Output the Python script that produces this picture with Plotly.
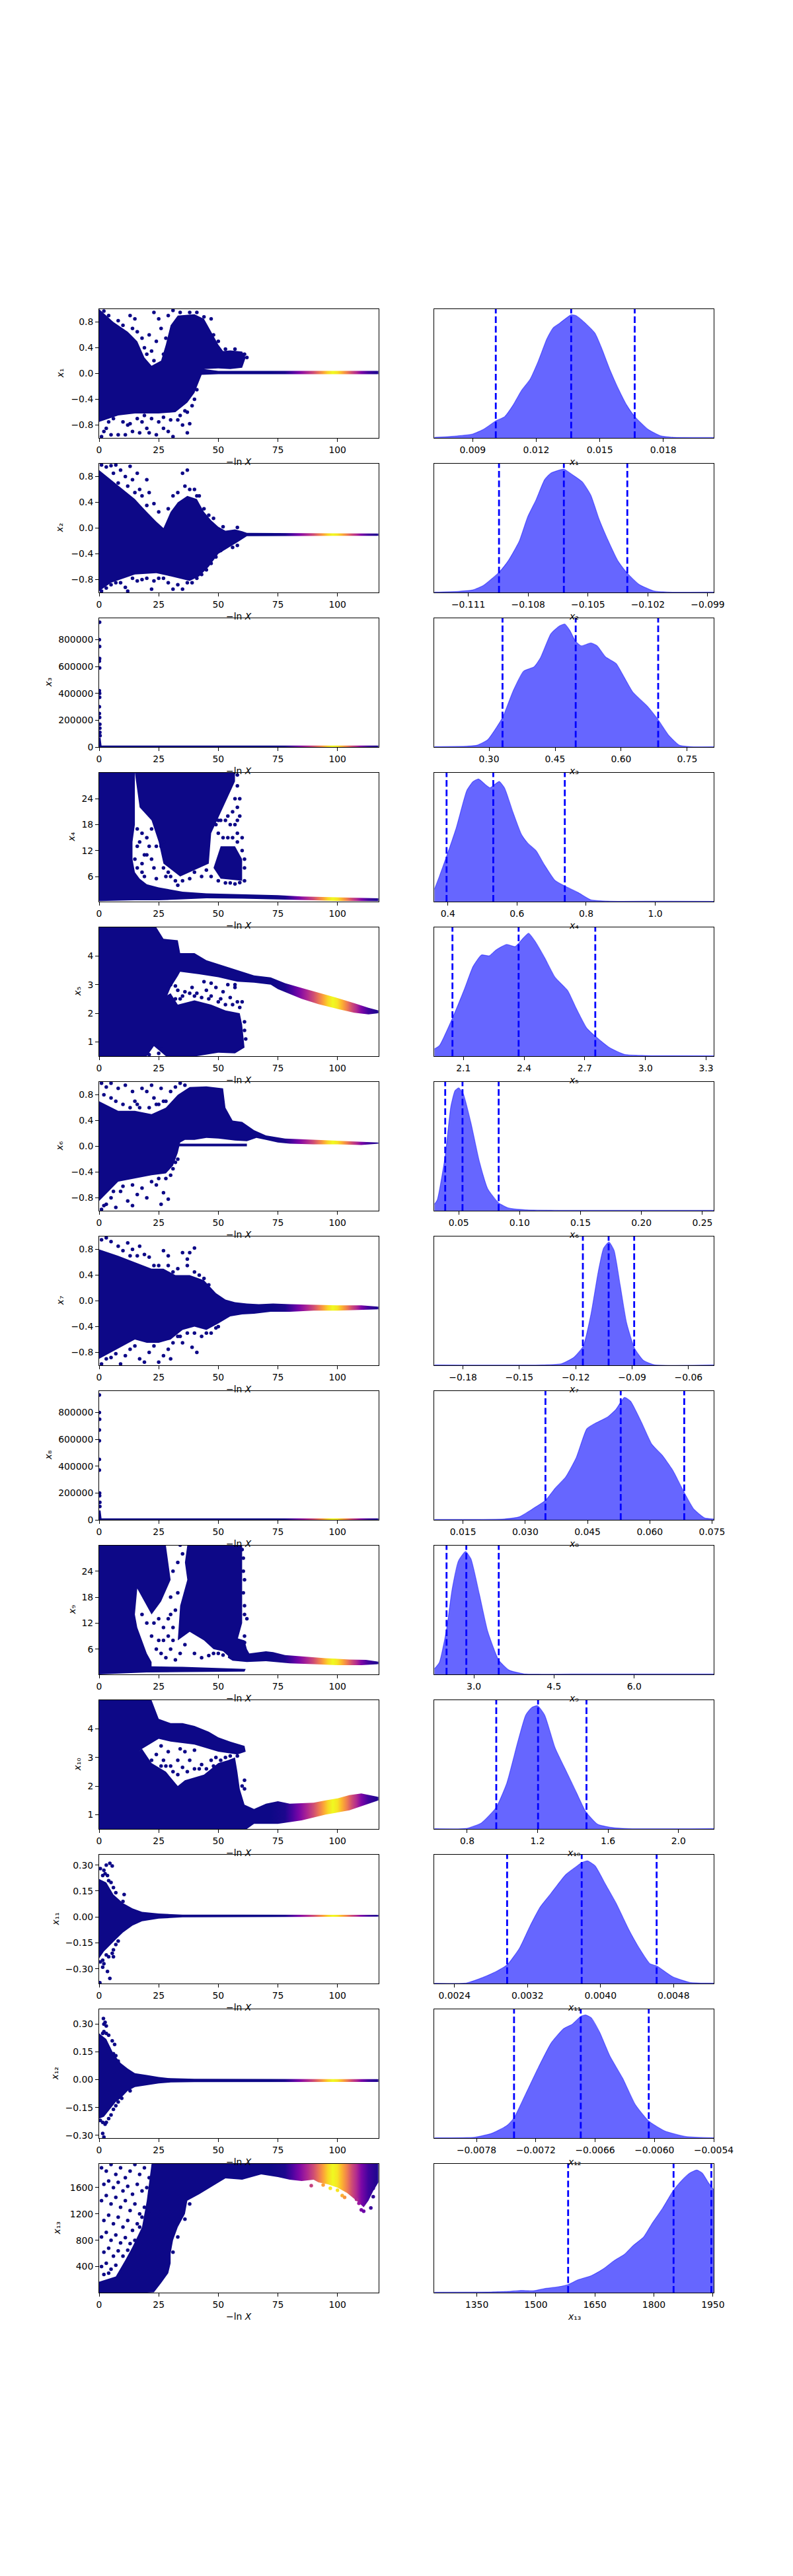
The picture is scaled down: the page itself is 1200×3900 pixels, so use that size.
import numpy as np
import plotly.graph_objects as go
from plotly.colors import sample_colorscale

X_MAX = 117.2
WEIGHT_X = [0, 72, 78, 81, 84, 87, 90, 92, 94, 96, 98, 100, 102, 104, 106, 108, 110, 113, 117.2]
WEIGHT = [0, 0, .03, .12, .25, .38, .52, .65, .78, .92, 1, .95, .82, .68, .52, .4, .25, .1, .03]
LNX_TICKS = ["0", "25", "50", "75", "100"]
SUB = ["₁", "₂", "₃", "₄", "₅", "₆", "₇", "₈", "₉", "₁₀", "₁₁", "₁₂", "₁₃"]

# ---------- left column: estimated outlines of solid clouds, and individually read points ----------
X1_POLYS = [[(0,-.75),(8,-.65),(15,-.62),(25,-.62),(32,-.6),(37,-.45),(40,-.3),(43,-.02),(50,-.01),(117.2,-.01),(117.2,.04),(50,.04),(44,.07),(50,.08),(55,.07),(60,.09),(61.5,.25),(60,.34),(55,.36),(52,.35),(50,.45),(47,.65),(44,.85),(40,.92),(33,.9),(30,.75),(28,.45),(26,.2),(22,.12),(19,.25),(16,.5),(12,.65),(6,.8),(0,1)]]
X1_DOTS = [(1,-.98),(3,-.85),(6,-.7),(8,-.95),(10,-.75),(12,-.8),(14,-.9),(16,-.7),(18,-.75),(20,-.85),(22,-.7),(24,-.95),(25,-.75),(27,-.68),(29,-.9),(30,-.72),(31,-.98),(33,-.72),(35,-.8),(37,-.92),(37,-.6),(38,-.78),(36,-.58),(39,-.5),(40,-.4),(41,-.25),(34,-.65),(19,-.65),(17,-.92),(13,-.78),(4,-.75),(2,-.9),(5,-.95),(11,-.95),(21,-.92),(27,-.85),(2,.97),(4,.9),(8,.82),(13,.9),(14,.7),(15,.85),(10,.75),(18,.55),(19,.4),(20,.3),(21,.6),(23,.95),(25,.85),(24,.5),(26,.7),(28,.55),(29,.9),(31,.98),(34,.95),(38,.95),(41,.95),(44,.88),(47,.85),(48,.6),(50,.5),(16,.65),(22,.35),(23,.2),(27,.3),(53,.38),(57,.38),(61,.3),(62,.25)]

X2_POLYS = [[(0,.9),(5,.75),(10,.6),(15,.45),(20,.25),(24,.1),(27,0),(30,.25),(33,.4),(37,.5),(41,.45),(44,.25),(47,.12),(50,.02),(53,-.04),(57,-.02),(60,-.05),(62,-.075),(117.2,-.085),(117.2,-.12),(62,-.125),(58,-.22),(50,-.4),(46,-.6),(42,-.75),(38,-.82),(30,-.75),(24,-.7),(15,-.72),(5,-.85),(0,-.98)]]
X2_DOTS = [(1,.98),(3,.95),(5,.97),(7,.98),(6,.85),(8,.7),(9,.9),(11,.8),(12,.65),(13,.96),(14,.75),(15,.55),(16,.85),(17,.6),(18,.5),(20,.75),(20,.35),(21,.55),(23,.38),(25,.25),(29,.3),(31,.5),(33,.55),(35,.85),(36,.65),(37,.9),(38,.6),(40,.6),(41,.5),(42,.5),(44,.3),(46,.2),(48,.15),(52,.02),(58,.01),(1,-.98),(3,-.93),(5,-.88),(7,-.85),(9,-.85),(11,-.92),(12,-.98),(14,-.78),(16,-.82),(18,-.8),(20,-.78),(22,-.95),(23,-.82),(25,-.78),(27,-.78),(29,-.85),(31,-.95),(33,-.88),(35,-.95),(37,-.85),(39,-.85),(41,-.78),(43,-.72),(45,-.65),(47,-.55),(49,-.45),(51,-.35),(56,-.3),(58,-.27)]

X3_POLYS = [[(0,70000),(.6,70000),(1,11000),(117.2,11000),(117.2,0),(0,0)]]
X3_DOTS = [(.2,930000),(.1,800000),(.2,750000),(.2,660000),(.1,640000),(.2,590000),(.1,420000),(.2,400000),(.2,370000),(.1,300000),(.1,250000),(.2,220000),(.3,170000),(.3,140000),(.3,110000),(.4,85000)]

X4_POLYS = [[(0,.3),(15,.5),(25,.5),(35,.7),(45,.95),(60,.9),(75,.75),(90,.5),(100,.35),(117.2,.3),(117.2,.95),(100,1.25),(85,1.4),(75,1.7),(60,1.95),(45,2.1),(35,2.5),(25,3.5),(20,4.2),(17,5.5),(15,7),(14,10),(14,14),(15,18),(15,24),(15,30),(0,30)],
            [(27,9),(34,6),(46,9),(47,16),(52,22),(57,28),(57,30),(15,30),(17,22),(22,19),(25,14)],
            [(48,8),(51,5.5),(60,5),(60,10),(57,13),(51,13)]]
X4_DOTS = [(16,17),(18,16),(20,15),(22,17),(24,13),(26,13),(27,8),(29,7),(30,6),(32,5),(33,4),(35,5),(38,5.5),(40,7),(43,6),(45,7.5),(47,6),(50,5),(53,4.5),(55,4.5),(57,4.3),(59,4.6),(61,5),(61,8),(61,10),(60,12),(58,14),(56,15),(54,15),(52,15),(50,16),(49,18),(51,19),(53,19),(55,18),(56,21),(57,18),(58,16),(58,22),(59,24),(58,27),(58,29.5),(59,20),(58,19),(57,24),(60,15),(54,20),(50,19),(19,11),(18,9),(16,13),(15,10),(17,14),(21,13),(16,8),(18,7),(19,6),(28,6),(27,14),(20,11),(22,10),(23,8),(24,5.5)]

X5_POLYS = [[(0,5),(24,5),(27,4.6),(33,4.55),(34,4.1),(40,4.1),(45,3.85),(50,3.72),(58,3.5),(65,3.32),(72,3.25),(78,3.05),(85,2.88),(92,2.72),(100,2.53),(107,2.35),(113,2.19),(117.2,2.1),(117.2,2.0),(113,1.96),(107,2.02),(100,2.15),(92,2.32),(85,2.5),(75,2.84),(72,3.0),(65,3.07),(58,3.1),(50,3.26),(42,3.36),(34,3.45),(33,3.3),(30,2.9),(28,2.5),(25,2.2),(0,2.85)],
            [(0,.5),(20,.5),(23,.85),(28,.5),(41,.5),(50,.62),(57,.6),(61,.8),(60,1.6),(59,2.0),(53,2.1),(47,2.3),(40,2.45),(33,2.3),(30,2.7),(28,2.6),(25,2.4),(0,3.05)]]
X5_DOTS = [(21,.55),(24,.95),(26,.75),(25,.6),(32,2.5),(34,2.5),(33,2.8),(35,2.6),(36,2.75),(38,2.7),(39,2.9),(40,2.6),(41,2.7),(43,2.55),(45,2.8),(46,2.5),(47,2.6),(49,2.9),(50,2.4),(51,2.5),(52,2.75),(53,2.3),(54,3.0),(55,2.55),(56,2.3),(57,2.9),(58,2.4),(59,2.2),(57,3.0),(60,2.4),(61,1.7),(61,1.4),(61.5,1.1),(44,3.1),(47,3.05),(30,3.0),(32,2.95)]

X6_POLYS = [[(0,.7),(8,.55),(15,.55),(22,.5),(28,.6),(33,.8),(38,.92),(45,.93),(52,.9),(53,.6),(56,.4),(60,.38),(65,.25),(70,.17),(78,.12),(90,.1),(100,.09),(110,.07),(117.2,.06),(117.2,.04),(110,.02),(100,.03),(90,.03),(80,.04),(75,.06),(70,.1),(66,.13),(62,.08),(57,.09),(50,.12),(45,.13),(40,.1),(36,.1),(34,.06),(33,-.1),(31,-.3),(28,-.42),(22,-.45),(15,-.5),(8,-.55),(0,-.85)],
            [(33,.04),(62,.04),(62,0),(33,0)]]
X6_DOTS = [(1,.98),(3,.92),(5,.98),(7,.7),(8,.9),(10,.65),(11,.95),(13,.6),(14,.85),(15,.7),(16,.65),(17,.6),(18,.9),(20,.85),(21,.6),(22,.95),(23,.75),(24,.65),(25,.65),(26,.9),(27,.7),(28,.7),(30,.85),(32,.92),(34,.98),(36,.95),(2,.8),(5,.75),(1,-.98),(3,-.9),(5,-.8),(7,-.95),(9,-.7),(12,-.85),(14,-.92),(14,-.6),(16,-.75),(18,-.65),(20,-.8),(22,-.55),(24,-.6),(25,-.5),(27,-.72),(29,-.82),(26,-.9),(28,-.5),(30,-.45),(2,-.92),(6,-.7),(10,-.62),(31,-.35),(32,-.25),(33,-.2)]

X7_POLYS = [[(0,.8),(8,.7),(15,.6),(22,.5),(27,.5),(32,.4),(38,.4),(44,.32),(49,.12),(53,.02),(57,-.02),(62,-.04),(67,-.05),(73,-.04),(80,-.05),(90,-.06),(100,-.07),(110,-.07),(117.2,-.09),(117.2,-.13),(110,-.14),(100,-.15),(90,-.15),(80,-.17),(72,-.17),(65,-.2),(60,-.21),(55,-.24),(50,-.35),(45,-.45),(40,-.4),(35,-.45),(30,-.6),(25,-.65),(20,-.65),(15,-.6),(10,-.7),(5,-.8),(0,-.9)]]
X7_DOTS = [(1,.95),(3,.98),(5,.92),(8,.85),(10,.78),(12,.9),(13,.7),(14,.8),(16,.7),(17,.85),(19,.72),(21,.68),(23,.55),(25,.55),(27,.78),(29,.55),(29,.7),(31,.45),(33,.5),(35,.75),(37,.65),(38,.75),(40,.82),(37,.55),(40,.45),(42,.4),(44,.35),(46,.25),(1,-.98),(3,-.9),(5,-.88),(7,-.82),(9,-.98),(11,-.85),(13,-.75),(15,-.7),(17,-.9),(19,-.95),(21,-.8),(23,-.7),(25,-.95),(27,-.85),(29,-.75),(30,-.9),(31,-.65),(33,-.55),(35,-.65),(37,-.5),(39,-.72),(41,-.8),(43,-.55),(45,-.5),(47,-.5),(49,-.42),(50,-.4),(40,-.5),(34,-.55)]

X8_POLYS = [[(0,70000),(.6,70000),(1,11000),(117.2,11000),(117.2,0),(0,0)]]
X8_DOTS = [(.1,930000),(.1,800000),(.2,750000),(.1,670000),(.1,590000),(.1,450000),(.1,370000),(.2,200000),(.2,180000),(.3,130000),(.3,100000)]

X9_POLYS = [[(54,4),(55,7),(58,8.5),(61,8),(62,6),(63,5),(70,5.5),(73,5.3),(78,4.6),(85,4.3),(95,3.9),(105,3.6),(112,3.5),(117.2,3.1),(117.2,2.5),(110,2.3),(100,2.3),(90,2.5),(80,2.7),(70,3.2),(62,3),(56,3.3)],
            [(0,.15),(20,.6),(35,.7),(61,.8),(61.5,1.4),(50,1.6),(35,1.9),(22,2.0),(22,3),(20,5),(18,8),(16,11),(15,14),(16,20),(22,14),(26,17),(30,22),(28,30),(0,30)],
            [(33,8),(38,10),(44,8),(48,6),(52,5.5),(55,4),(58,8),(60,12),(60,20),(60,30),(37,30),(36,26),(37,22),(34,16)]]
X9_DOTS = [(18,14),(20,12),(22,9),(24,6),(26,5),(28,4),(30,6),(32,3.5),(34,5),(36,7),(40,5),(43,4),(46,4.5),(48,5),(50,5),(52,4.6),(31,11),(29,13),(27,11),(25,13),(23,12),(33,19),(33,26),(31,24),(35,28),(34,30),(29,9),(27,8),(25,8),(31,8),(30,14),(32,15),(30,18),(61,14),(62,13),(61,9),(61,7.5),(60.5,24),(61,16),(60.5,19),(61,22),(60.5,27),(60,29)]

X10_POLYS = [[(0,5),(22,5),(25,4.35),(30,4.2),(35,4.2),(40,4.1),(46,3.9),(50,3.7),(55,3.55),(61,3.4),(61.5,3.2),(58,3.1),(50,3.2),(40,3.45),(30,3.55),(25,3.65),(18,3.3),(10,2.7),(0,2.5)],
             [(0,.5),(62,.5),(65,.68),(75,.68),(85,.8),(95,1),(105,1.15),(115,1.45),(117.2,1.5),(117.2,1.62),(110,1.74),(105,1.68),(100,1.57),(95,1.5),(90,1.42),(80,1.38),(75,1.47),(70,1.38),(65,1.2),(61,1.35),(59,1.9),(58,2.5),(57,3.0),(54,2.9),(50,2.8),(44,2.4),(36,2.2),(33,2.0),(28,2.5),(22,2.8),(18,3.3),(10,2.8),(0,2.7)]]
X10_DOTS = [(26,2.7),(28,2.7),(27,2.9),(30,2.7),(31,2.5),(33,2.9),(33,2.4),(35,2.65),(37,2.5),(38,2.9),(29,3.2),(26,3.4),(24,3.1),(22,2.9),(40,2.6),(42,2.6),(43,2.75),(45,2.6),(47,2.9),(49,3.0),(48,2.7),(51,2.9),(53,3.0),(55,3.05),(58,3.05),(36,3.2),(34,3.3),(40,3.25),(60,2.0),(61,2.2),(61,1.9)]

X11_POLYS = [[(0,.22),(3,.2),(6,.13),(10,.08),(14,.05),(18,.03),(25,.02),(35,.013),(60,.013),(117.2,.012),(117.2,.002),(60,0),(35,-.002),(25,-.01),(18,-.025),(14,-.05),(10,-.09),(7,-.13),(4,-.17),(2,-.2),(0,-.24)]]
X11_DOTS = [(.5,.28),(2,.27),(3,.3),(4.5,.31),(5.5,.295),(2.5,.25),(3.5,.24),(1.5,.24),(4,.21),(5,.2),(6,.17),(7,.14),(10.5,.13),(10,.09),(.5,-.26),(1.5,-.25),(1.5,-.29),(3.5,-.315),(4.5,-.355),(.3,-.38),(2,-.27),(3,-.22),(4,-.23),(5.5,-.21),(6,-.19),(7,-.16),(8,-.14),(6,-.23)]

X12_POLYS = [[(0,.25),(3,.22),(6,.14),(9,.09),(12,.06),(15,.035),(20,.025),(25,.015),(30,.008),(40,.005),(117.2,.003),(117.2,-.012),(40,-.013),(30,-.015),(25,-.02),(20,-.03),(15,-.04),(12,-.06),(9,-.1),(7,-.12),(4,-.17),(2,-.2),(0,-.21)]]
X12_DOTS = [(1.8,.33),(2,.3),(2.5,.31),(3,.29),(2,.26),(1.5,.25),(3,.25),(4,.24),(5.5,.21),(6.5,.19),(4,.17),(6,.14),(7,.13),(8,.1),(.5,-.22),(1.5,-.23),(2.5,-.24),(3,-.23),(4,-.21),(5,-.19),(6,-.16),(7,-.14),(8,-.12),(1.5,-.29),(2,-.31),(9.5,-.1),(13,-.06)]

X13_POLYS = [[(20,5),(23,10),(26,150),(29,300),(30,450),(30,600),(31,800),(33,1000),(36,1200),(37,1400),(42,1500),(47,1610),(50,1680),(53,1740),(60,1720),(68,1800),(75,1760),(80,1720),(85,1700),(90,1720),(92,1680),(96,1650),(100,1600),(104,1520),(108,1400),(111,1300),(113,1400),(115,1550),(117.2,1680),(117.2,1960),(22,1960),(20,1400),(18,1000),(14,700),(11,500),(7,250),(0,170),(0,5)]]
X13_DOTS = [(1,1900),(3,1850),(5,1950),(7,1800),(9,1900),(11,1750),(13,1850),(15,1950),(17,1800),(19,1900),(2,1650),(4,1700),(6,1600),(8,1680),(10,1550),(12,1620),(14,1500),(16,1650),(18,1550),(1,1400),(3,1480),(5,1350),(7,1450),(9,1300),(11,1400),(13,1250),(15,1350),(17,1200),(19,1300),(2,1100),(4,1180),(6,1050),(8,1150),(10,1000),(12,1100),(14,950),(16,1050),(18,1150),(1,850),(3,920),(5,800),(7,880),(9,760),(11,840),(13,750),(15,800),(17,1000),(2,620),(4,680),(6,560),(8,640),(10,560),(1,400),(3,450),(5,360),(7,420),(2,280),(4,300),(12,650),(20,1600),(21,1750),(21,1250),(89,1630),(94,1640),(97,1590),(100,1560),(102,1480),(103,1450),(108,1420),(109,1360),(110,1260),(111,1240),(114,1290),(115,1460),(115,1590),(116,1700),(31,620),(33,850),(36,1120),(38,1350)]

# ---------- right column: density curves (relative height) and quantiles ----------
K1_X = [.00719,.00813,.0090,.00952,.01009,.01051,.01091,.0113,.0117,.0121,.0125,.0128,.01309,.01365,.01389,.01428,.01478,.01508,.01548,.01587,.01627,.01665,.01727,.01786,.01846,.02038]
K1_H = [.005,.014,.031,.068,.132,.166,.256,.368,.453,.598,.769,.855,.889,.956,.949,.897,.812,.701,.53,.385,.256,.166,.068,.017,.005,.003]
K2_X = [-.1127,-.11151,-.11077,-.11024,-.10946,-.10898,-.10845,-.10803,-.1076,-.10718,-.10687,-.10621,-.10581,-.10528,-.10486,-.10444,-.10402,-.10349,-.10303,-.10244,-.1017,-.10096,-.0987]
K2_H = [.003,.009,.02,.055,.157,.251,.397,.585,.721,.875,.926,.957,.918,.858,.756,.568,.414,.243,.149,.063,.012,.003,.003]
K3_X = [.1758,.2494,.2732,.2971,.3306,.3545,.3783,.4022,.4166,.4404,.4596,.472,.4834,.4968,.5092,.5312,.5455,.5646,.5885,.6076,.6267,.6602,.6841,.7079,.7318,.7557,.8102]
K3_H = [.003,.007,.015,.058,.229,.435,.589,.623,.692,.88,.94,.955,.906,.82,.786,.808,.786,.7,.649,.538,.426,.315,.212,.092,.015,.003,.002]
K4_X = [.361,.3757,.3963,.4243,.4548,.473,.4888,.5095,.5217,.5339,.5485,.5643,.5886,.613,.6312,.6556,.6799,.7103,.7383,.7773,.8138,.8685,1.0024,1.169]
K4_H = [.096,.198,.352,.573,.863,.932,.952,.906,.884,.906,.933,.881,.693,.522,.454,.394,.283,.164,.121,.07,.014,.003,.003,.002]
K5_X = [1.9565,1.9815,2.0459,2.1062,2.1478,2.1894,2.2269,2.2622,2.3142,2.3558,2.3974,2.4224,2.4536,2.5014,2.5534,2.6158,2.6574,2.7094,2.7614,2.8238,2.8966,3.0006,3.3375]
K5_H = [.056,.082,.296,.526,.697,.786,.779,.826,.868,.851,.92,.954,.894,.766,.612,.509,.373,.219,.142,.065,.014,.005,.003]
K6_X = [.03,.0324,.0389,.0434,.0469,.05,.0538,.06,.0669,.0738,.0828,.0911,.1049,.1429,.2593]
K6_H = [.051,.085,.427,.803,.932,.954,.906,.684,.385,.171,.06,.021,.007,.003,.003]
K7_X = [-.1952,-.1377,-.1276,-.1209,-.116,-.1119,-.1081,-.1052,-.1023,-.0996,-.0963,-.0929,-.0887,-.084,-.0784,-.0466]
K7_H = [.003,.003,.012,.063,.149,.397,.721,.909,.957,.892,.619,.328,.132,.038,.005,.003]
K8_X = [.0081,.025,.0286,.0321,.0349,.0372,.0397,.0423,.0448,.0468,.0499,.0519,.0539,.0554,.058,.0605,.063,.0656,.0683,.0706,.0732,.0754]
K8_H = [.003,.007,.024,.092,.152,.246,.331,.485,.706,.749,.8,.86,.951,.92,.758,.587,.502,.382,.212,.084,.015,.007]
K9_X = [2.26,2.354,2.488,2.591,2.709,2.843,2.945,3.102,3.26,3.465,3.654,3.929,4.835,7.488]
K9_H = [.043,.094,.35,.658,.88,.954,.897,.624,.333,.111,.034,.005,.003,.003]
K10_X = [.6135,.7976,.8813,.965,1.0247,1.0845,1.1323,1.1682,1.1992,1.2399,1.2996,1.3594,1.4192,1.4742,1.5387,1.6104,1.706,2.2009]
K10_H = [.003,.005,.048,.168,.356,.663,.885,.945,.957,.885,.629,.458,.287,.133,.039,.014,.003,.003]
K11_X = [.00218,.002534,.002695,.002857,.002977,.003111,.003226,.003342,.003457,.003618,.003734,.003794,.003858,.003942,.004057,.004172,.004311,.004426,.004542,.004615,.004795,.00498,.005243]
K11_H = [.002,.005,.043,.094,.145,.273,.444,.597,.7,.845,.908,.939,.952,.913,.768,.623,.418,.273,.154,.137,.051,.009,.003]
K12_X = [-.008226,-.007813,-.007642,-.007493,-.00742,-.007301,-.007173,-.007045,-.006918,-.006832,-.006747,-.006696,-.00664,-.006555,-.006449,-.006321,-.006193,-.006057,-.005894,-.005681,-.005396]
K12_H = [.002,.007,.038,.097,.157,.345,.55,.738,.85,.884,.944,.956,.935,.824,.636,.465,.26,.132,.055,.012,.002]
K13_X = [1242,1378,1431,1463,1495,1522,1554,1582,1608,1640,1672,1699,1725,1747,1774,1795,1822,1849,1870,1891,1909,1923,1939,1952]
K13_H = [.003,.005,.01,.017,.015,.032,.044,.063,.101,.131,.186,.249,.297,.365,.433,.536,.655,.792,.869,.928,.952,.928,.852,.8]

Q1 = [.01009,.01365,.01665]
Q2 = [-.10946,-.10621,-.10303]
Q3 = [.3306,.4968,.6841]
Q4 = [.3963,.5314,.7383]
Q5 = [2.0459,2.373,2.752]
Q6 = [.0389,.0531,.0828]
Q7 = [-.1162,-.1025,-.0889]
Q8 = [.03486,.0530,.0683]
Q9 = [2.488,2.858,3.465]
Q10 = [.965,1.2024,1.4774]
Q11 = [.002977,.003794,.004615]
Q12 = [-.00742,-.006745,-.006057]
Q13 = [1582,1850,1946]

RANGE_L = [(-1,1),(-1,1),(0,960000),(.2,30),(.5,5),(-1,1),(-1,1),(0,960000),(.15,29.9),(.5,5),(-.385,.36),(-.315,.38),(5,1960)]
RANGE_R = [(.00719,.02038),(-.1127,-.0987),(.1758,.8102),(.361,1.169),(1.9565,3.3374),(.03,.2593),(-.1952,-.0466),(.0081,.0754),(2.26,7.488),(.6135,2.2),(.00218,.00524),(-.008226,-.0054),(1242,1952)]
YTICKS = [
 ["−0.8","−0.4","0.0","0.4","0.8"],["−0.8","−0.4","0.0","0.4","0.8"],
 ["0","200000","400000","600000","800000"],["6","12","18","24"],["1","2","3","4"],
 ["−0.8","−0.4","0.0","0.4","0.8"],["−0.8","−0.4","0.0","0.4","0.8"],
 ["0","200000","400000","600000","800000"],["6","12","18","24"],["1","2","3","4"],
 ["−0.30","−0.15","0.00","0.15","0.30"],["−0.30","−0.15","0.00","0.15","0.30"],
 ["400","800","1200","1600"]]
XTICKS_R = [
 ["0.009","0.012","0.015","0.018"],["−0.111","−0.108","−0.105","−0.102","−0.099"],
 ["0.30","0.45","0.60","0.75"],["0.4","0.6","0.8","1.0"],["2.1","2.4","2.7","3.0","3.3"],
 ["0.05","0.10","0.15","0.20","0.25"],["−0.18","−0.15","−0.12","−0.09","−0.06"],
 ["0.015","0.030","0.045","0.060","0.075"],["3.0","4.5","6.0"],["0.8","1.2","1.6","2.0"],
 ["0.0024","0.0032","0.0040","0.0048"],["−0.0078","−0.0072","−0.0066","−0.0060","−0.0054"],
 ["1350","1500","1650","1800","1950"]]
YLABEL_PX = [90,90,72,108,116,90,90,72,108,116,83,83,85]

POLYS = [X1_POLYS,X2_POLYS,X3_POLYS,X4_POLYS,X5_POLYS,X6_POLYS,X7_POLYS,X8_POLYS,X9_POLYS,X10_POLYS,X11_POLYS,X12_POLYS,X13_POLYS]
DOTS = [X1_DOTS,X2_DOTS,X3_DOTS,X4_DOTS,X5_DOTS,X6_DOTS,X7_DOTS,X8_DOTS,X9_DOTS,X10_DOTS,X11_DOTS,X12_DOTS,X13_DOTS]
KX = [K1_X,K2_X,K3_X,K4_X,K5_X,K6_X,K7_X,K8_X,K9_X,K10_X,K11_X,K12_X,K13_X]
KH = [K1_H,K2_H,K3_H,K4_H,K5_H,K6_H,K7_H,K8_H,K9_H,K10_H,K11_H,K12_H,K13_H]
QS = [Q1,Q2,Q3,Q4,Q5,Q6,Q7,Q8,Q9,Q10,Q11,Q12,Q13]

FONT = "DejaVu Sans"
W, H = 1200, 3900
num = lambda s: float(s.replace("−", "-"))

stops = sorted({(x / X_MAX): w for x, w in zip(WEIGHT_X, WEIGHT)}.items())
GRADIENT = [[p, sample_colorscale("Plasma", [w])[0]] for p, w in stops]

fig = go.Figure()
layout = {}
annotations = []


def axis(domain, rng, ticks, anchor, show=True):
    d = dict(domain=domain, range=list(rng), anchor=anchor, showgrid=False, zeroline=False, automargin=False,
             showline=True, linecolor="black", linewidth=1, mirror=True, fixedrange=True,
             tickfont=dict(family=FONT, size=13.9, color="black"))
    if show:
        d.update(ticks="outside", ticklen=5, tickwidth=1, tickcolor="black",
                 tickmode="array", tickvals=[num(t) for t in ticks], ticktext=ticks)
    else:
        d.update(ticks="", showticklabels=False)
    return d


for i in range(13):
    top = 468 + 234 * i
    yd = [(H - top - 195) / H, (H - top) / H]
    a, b = 2 * i + 1, 2 * i + 2
    layout[f"xaxis{a}"] = axis([150 / W, 572.7 / W], (0, X_MAX), LNX_TICKS, f"y{a}")
    layout[f"yaxis{a}"] = axis(yd, RANGE_L[i], YTICKS[i], f"x{a}")
    layout[f"xaxis{b}"] = axis([657.3 / W, 1080 / W], RANGE_R[i], XTICKS_R[i], f"y{b}")
    layout[f"yaxis{b}"] = axis(yd, (0, 1), [], f"x{b}", show=False)

    for poly in POLYS[i]:
        px_, py_ = zip(*poly)
        fig.add_trace(go.Scatter(x=list(px_) + [px_[0]], y=list(py_) + [py_[0]], mode="lines", fill="toself",
                                 line=dict(width=0), fillgradient=dict(type="horizontal", colorscale=GRADIENT, start=0, stop=X_MAX),
                                 xaxis=f"x{a}", yaxis=f"y{a}", hoverinfo="skip"))
    dx, dy = zip(*DOTS[i])
    fig.add_trace(go.Scatter(x=dx, y=dy, mode="markers", cliponaxis=True,
                             marker=dict(size=5.5, color=np.interp(dx, WEIGHT_X, WEIGHT), colorscale="Plasma", cmin=0, cmax=1),
                             xaxis=f"x{a}", yaxis=f"y{a}", hoverinfo="skip"))

    fig.add_trace(go.Scatter(x=KX[i], y=KH[i], mode="lines", fill="tozeroy", fillcolor="rgba(0,0,255,0.6)",
                             line=dict(color="rgba(0,0,255,0.45)", width=1.2, shape="spline", smoothing=0.5),
                             xaxis=f"x{b}", yaxis=f"y{b}", hoverinfo="skip"))
    for q in QS[i]:
        fig.add_trace(go.Scatter(x=[q, q], y=[0, 1], mode="lines",
                                 line=dict(color="blue", width=2.8, dash="10px,4.5px"),
                                 xaxis=f"x{b}", yaxis=f"y{b}", hoverinfo="skip"))

    cy = (H - top - 97.5) / H
    label = f"<i>x</i>{SUB[i]}"
    text_font = dict(family=FONT, size=13.9, color="black")
    annotations.append(dict(text=label, x=YLABEL_PX[i] / W, y=cy, xref="paper", yref="paper",
                            textangle=-90, showarrow=False, xanchor="center", yanchor="middle", font=text_font))
    ly = (H - top - 195 - 36) / H
    annotations.append(dict(text="−ln <i>X</i>", x=361.35 / W, y=ly, xref="paper", yref="paper", showarrow=False,
                            xanchor="center", yanchor="middle", font=text_font))
    annotations.append(dict(text=label, x=868.65 / W, y=ly, xref="paper", yref="paper", showarrow=False,
                            xanchor="center", yanchor="middle", font=text_font))

fig.update_layout(width=W, height=H, margin=dict(l=0, r=0, t=0, b=0, autoexpand=False), paper_bgcolor="white", plot_bgcolor="white",
                  autosize=False, showlegend=False, hovermode=False, annotations=annotations, template="none", **layout)
fig.write_html("out.html", config={"displayModeBar": False, "responsive": False},
               default_width="1200px", default_height="3900px",
               post_script="document.documentElement.style.overflow='hidden';document.body.style.margin='0';")
